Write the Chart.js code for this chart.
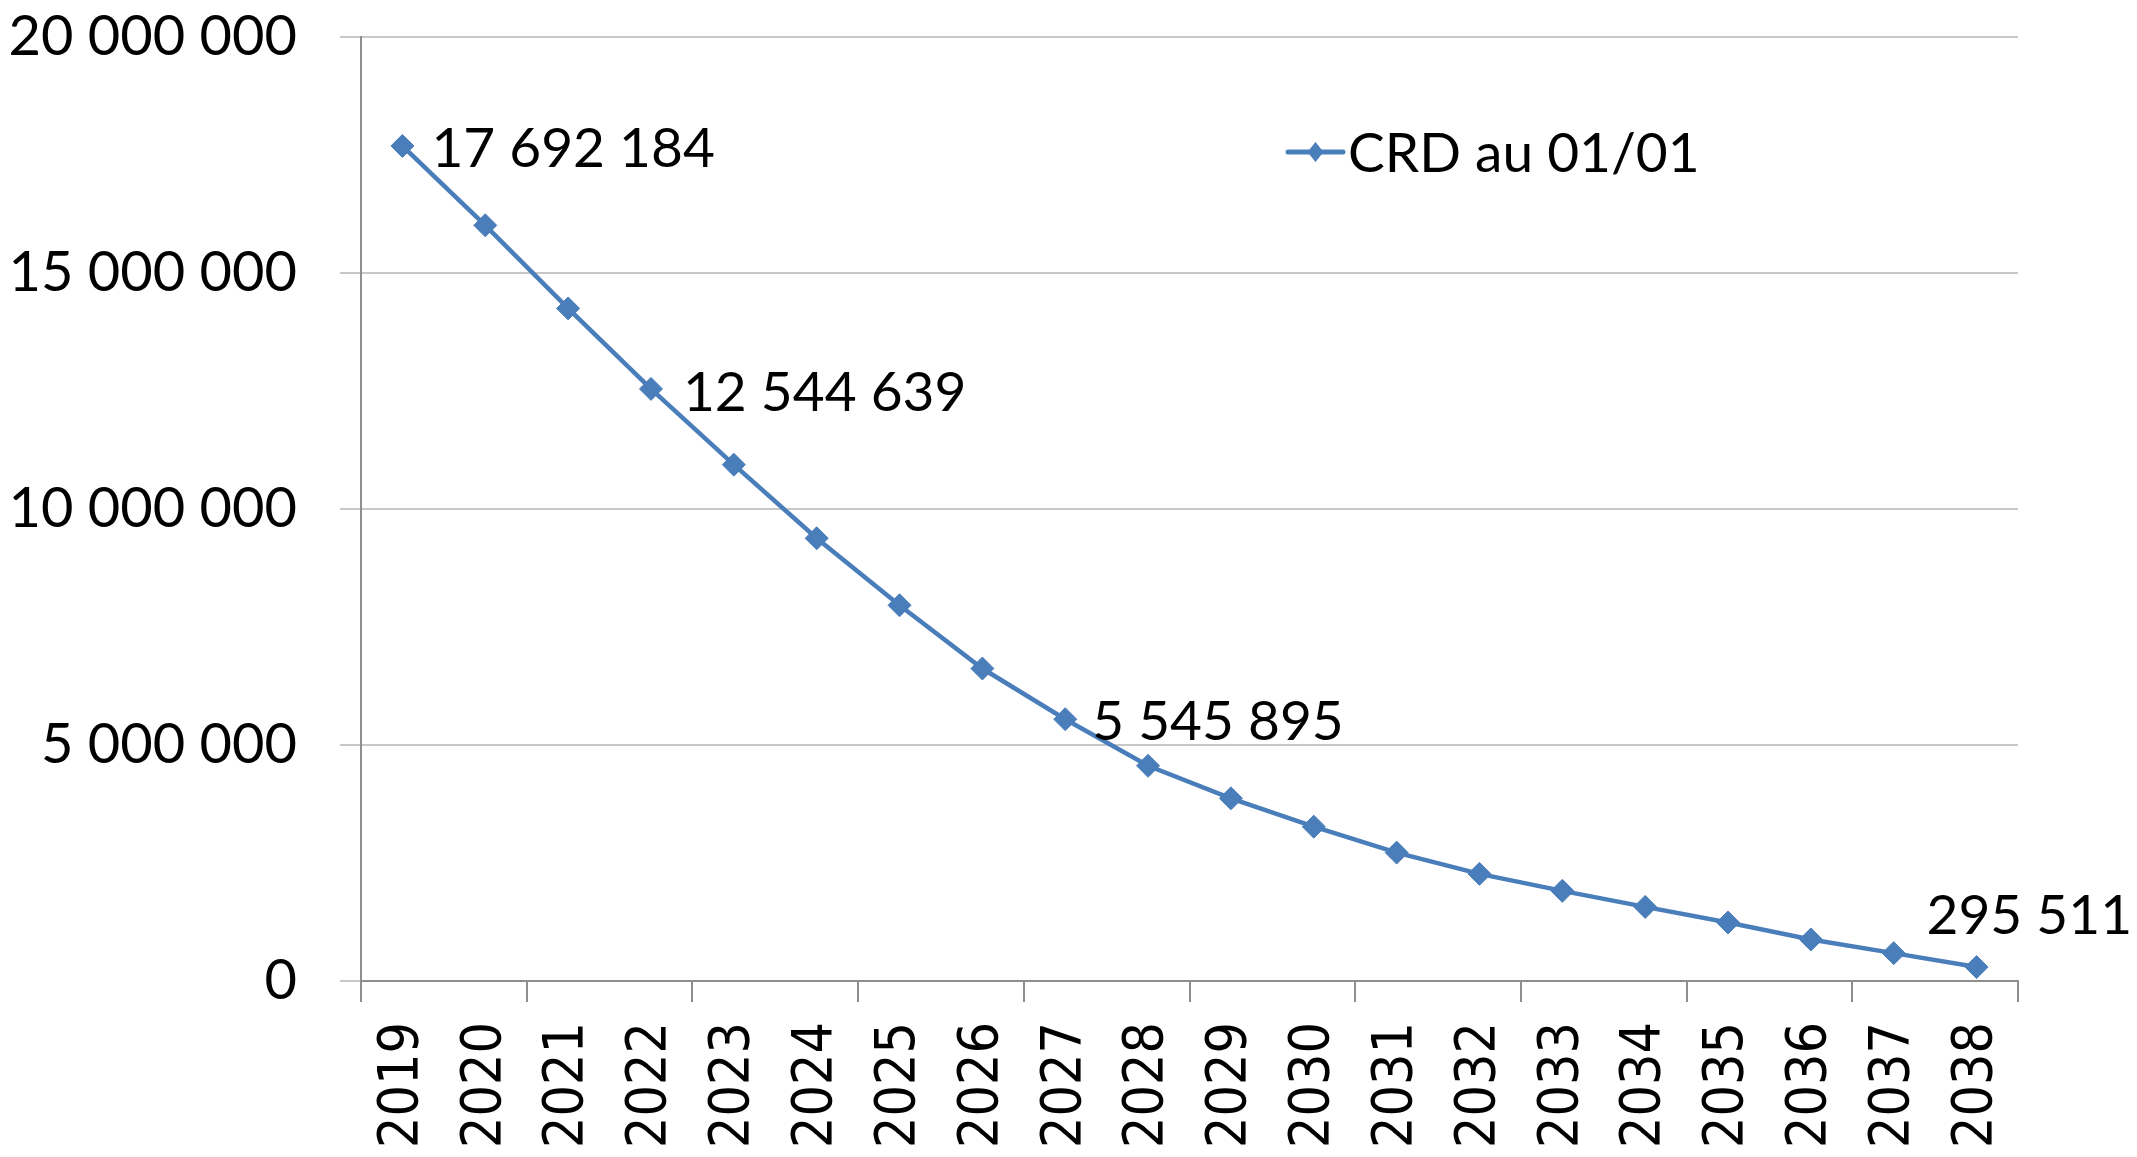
<!DOCTYPE html>
<html>
<head>
<meta charset="utf-8">
<script src="https://cdn.jsdelivr.net/npm/chart.js@4.4.1/dist/chart.umd.min.js"></script>
<style>
  html, body { margin: 0; padding: 0; background: #ffffff; }
  #wrap { width: 2137px; height: 1157px; }
</style>
</head>
<body>
<div id="wrap"><canvas id="c" width="2137" height="1157"></canvas></div>
<script>
// ---- data ----
const categories = ['2019','2020','2021','2022','2023','2024','2025','2026','2027','2028',
                    '2029','2030','2031','2032','2033','2034','2035','2036','2037','2038'];
const crdValues = [17692184, 16010000, 14250000, 12544639, 10940000, 9380000, 7960000, 6620000,
                   5545895, 4560000, 3870000, 3270000, 2720000, 2270000, 1910000, 1570000,
                   1240000, 880000, 590000, 295511];
const seriesLabel = 'CRD au 01/01';
const yTickValues = [0, 5000000, 10000000, 15000000, 20000000];
const yTickLabels = ['0', '5 000 000', '10 000 000', '15 000 000', '20 000 000'];
const labeledIndices = [0, 3, 8, 19];

// ---- styles ----
const lineColor = '#4A7EBB';
const gridColor = '#C8C8C8';
const axisColor = '#8E8E8E';
const mainFont = 'Lato, "Open Sans", sans-serif';
const xFont = '"DejaVu Sans Condensed", "DejaVu Sans", sans-serif';

function fmt(v) {
  return String(Math.round(v)).replace(/\B(?=(\d{3})+(?!\d))/g, ' ');
}

const dataLabelPlugin = {
  id: 'dataLabelPlugin',
  afterDatasetsDraw(chart, args, opts) {
    const meta = chart.getDatasetMeta(0);
    const ctx = chart.ctx;
    ctx.save();
    ctx.font = opts.font;
    ctx.fillStyle = '#000000';
    ctx.textAlign = 'left';
    ctx.textBaseline = 'middle';
    labeledIndices.forEach(i => {
      const el = meta.data[i];
      const off = opts.offsets[i] || [28, 3];
      ctx.fillText(fmt(chart.data.datasets[0].data[i]), el.x + off[0], el.y + off[1]);
    });
    ctx.restore();
  }
};

const customLegend = {
  id: 'customLegend',
  afterDraw(chart, args, opts) {
    const ctx = chart.ctx;
    const ds = chart.data.datasets[0];
    const x0 = opts.x, y0 = opts.y, len = opts.lineLength;
    ctx.save();
    ctx.strokeStyle = ds.borderColor;
    ctx.lineWidth = 5;
    ctx.lineCap = 'round';
    ctx.beginPath();
    ctx.moveTo(x0, y0);
    ctx.lineTo(x0 + len, y0);
    ctx.stroke();
    const cx = x0 + len / 2, r = opts.markerRadius;
    ctx.fillStyle = ds.pointBackgroundColor;
    ctx.beginPath();
    ctx.moveTo(cx, y0 - r);
    ctx.lineTo(cx + r * 0.8, y0);
    ctx.lineTo(cx, y0 + r);
    ctx.lineTo(cx - r * 0.8, y0);
    ctx.closePath();
    ctx.fill();
    ctx.fillStyle = '#000000';
    ctx.font = opts.font;
    ctx.textAlign = 'left';
    ctx.textBaseline = 'middle';
    ctx.fillText(ds.label, x0 + len + 5, y0 + 2);
    ctx.restore();
  }
};

new Chart(document.getElementById('c'), {
  type: 'line',
  data: {
    labels: categories,
    datasets: [{
      label: seriesLabel,
      data: crdValues,
      borderColor: lineColor,
      backgroundColor: lineColor,
      pointBackgroundColor: lineColor,
      pointBorderColor: lineColor,
      borderWidth: 4.5,
      pointStyle: 'rectRot',
      pointRadius: 11.5,
      pointBorderWidth: 1,
      tension: 0,
      fill: false
    }]
  },
  options: {
    responsive: false,
    animation: false,
    events: [],
    layout: { padding: { top: 0, right: 119, left: 0, bottom: 0 } },
    plugins: {
      legend: { display: false },
      tooltip: { enabled: false },
      dataLabelPlugin: {
        font: '55px ' + mainFont,
        offsets: { 0: [29, 3], 3: [32, 4], 8: [27, 3], 19: [-50, -51] }
      },
      customLegend: {
        x: 1288, y: 152, lineLength: 55, markerRadius: 10,
        font: '55px ' + mainFont
      }
    },
    scales: {
      x: {
        type: 'category',
        offset: true,
        grid: {
          offset: true,
          drawOnChartArea: false,
          drawTicks: true,
          tickLength: 21,
          lineWidth: 2,
          color: (c) => (c.index === undefined || c.index % 2 === 0) ? axisColor : 'rgba(0,0,0,0)'
        },
        border: { display: true, color: axisColor, width: 2 },
        ticks: {
          autoSkip: false,
          minRotation: 90,
          maxRotation: 90,
          padding: 20,
          color: '#000000',
          font: { family: xFont, size: 55 }
        },
        afterFit: (s) => { s.height = 176; }
      },
      y: {
        min: 0,
        max: 20000000,
        afterBuildTicks: (s) => { s.ticks = yTickValues.map(v => ({ value: v })); },
        grid: {
          color: gridColor,
          lineWidth: 2,
          drawTicks: true,
          tickLength: 21,
          tickColor: gridColor
        },
        border: { display: true, color: axisColor, width: 2 },
        ticks: {
          padding: 43,
          color: '#000000',
          font: { family: mainFont, size: 56 },
          callback: (v, i) => yTickLabels[i]
        },
        afterFit: (s) => { s.width = 361; s.paddingTop = 37; s.paddingBottom = 0; }
      }
    }
  },
  plugins: [dataLabelPlugin, customLegend]
});
</script>
</body>
</html>
